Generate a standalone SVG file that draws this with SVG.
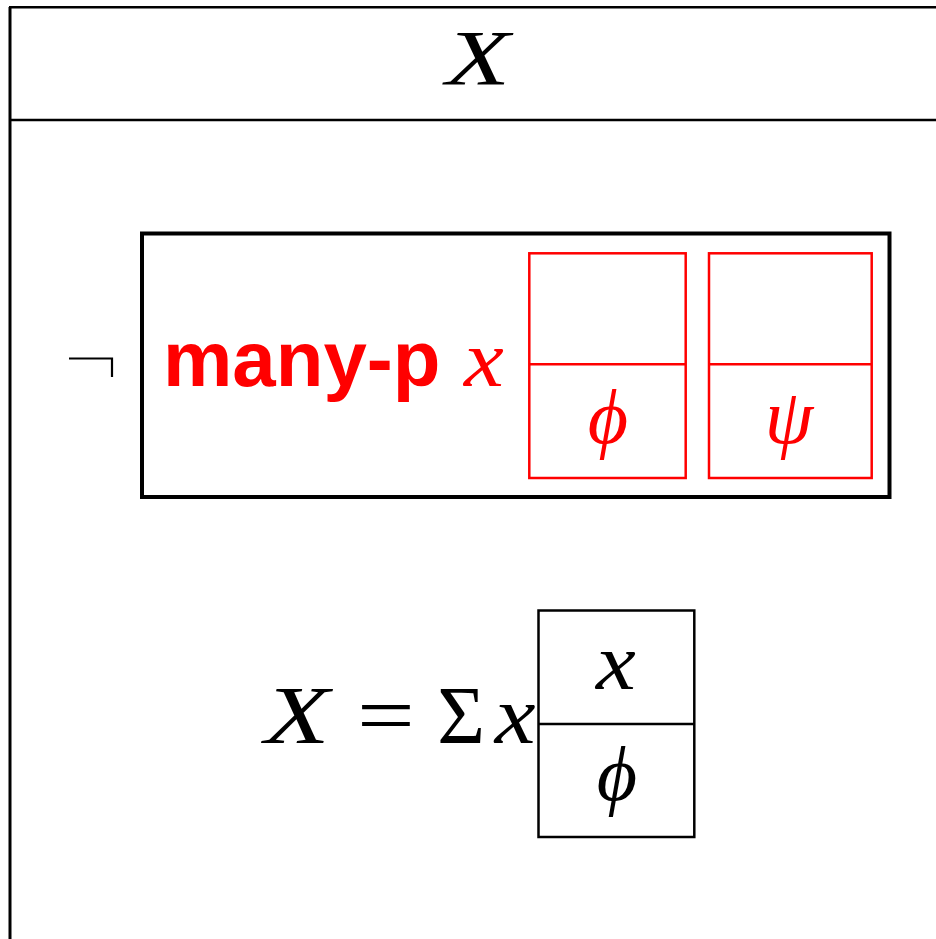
<svg xmlns="http://www.w3.org/2000/svg" width="936" height="939" viewBox="0 0 936 939">
<style>
.blk{fill:none;stroke:#000;}
.red{fill:none;stroke:#ff0000;stroke-width:2.5;}
.math{font-family:"Liberation Serif","DejaVu Serif",serif;font-style:italic;}
.up{font-family:"Liberation Serif","DejaVu Serif",serif;}
</style>
<rect width="936" height="939" fill="#fff"/>
<g id="outer-drs">
<line class="blk" x1="10" y1="7" x2="10" y2="939" stroke-width="3"/>
<line class="blk" x1="9" y1="7.2" x2="936" y2="7.2" stroke-width="2.5"/>
<line class="blk" x1="9" y1="120" x2="936" y2="120" stroke-width="2.5"/>
<text class="math" transform="translate(478,84) scale(1.35,1)" x="0" y="0" font-size="78" text-anchor="middle">X</text>
</g>
<g id="negation">
<path class="blk" d="M69 358.5 H112 V377" stroke-width="2.2"/>
</g>
<g id="many-p-box">
<rect class="blk" x="142" y="233.5" width="747.5" height="263.5" stroke-width="4"/>
<text x="163" y="385.7" font-family="'Liberation Sans',Arial,sans-serif" font-weight="bold" font-size="78" fill="#ff0000">many-p</text>
<text class="math" transform="translate(484,386) scale(1.12,1)" x="0" y="0" font-size="80" fill="#ff0000" text-anchor="middle">x</text>
</g>
<g id="restrictor-box">
<rect class="red" x="529.3" y="253.3" width="156.4" height="224.7"/>
<line class="red" x1="529.3" y1="364.3" x2="685.7" y2="364.3"/>
<text class="math" x="608" y="443" font-size="78" fill="#ff0000" text-anchor="middle">ϕ</text>
</g>
<g id="scope-box">
<rect class="red" x="709" y="253.3" width="162.7" height="224.7"/>
<line class="red" x1="709" y1="364.3" x2="871.7" y2="364.3"/>
<text class="math" x="789" y="443" font-size="78" fill="#ff0000" text-anchor="middle">ψ</text>
</g>
<g id="equation">
<text class="math" transform="translate(297,743.3) scale(1.3,1)" x="0" y="0" font-size="82" text-anchor="middle">X</text>
<text class="up" transform="translate(386,743.3) scale(1.25,1)" x="0" y="0" font-size="82" text-anchor="middle">=</text>
<text class="up" x="461" y="743.3" font-size="82" text-anchor="middle">Σ</text>
<text class="math" transform="translate(515,743.3) scale(1.12,1)" x="0" y="0" font-size="82" text-anchor="middle">x</text>
</g>
<g id="sum-box">
<rect class="blk" x="538.5" y="610.5" width="155.8" height="226.5" stroke-width="2.5"/>
<line class="blk" x1="538.5" y1="724" x2="694.3" y2="724" stroke-width="2.5"/>
<text class="math" transform="translate(616,689) scale(1.12,1)" x="0" y="0" font-size="80" text-anchor="middle">x</text>
<text class="math" x="617" y="800" font-size="78" text-anchor="middle">ϕ</text>
</g>
</svg>
